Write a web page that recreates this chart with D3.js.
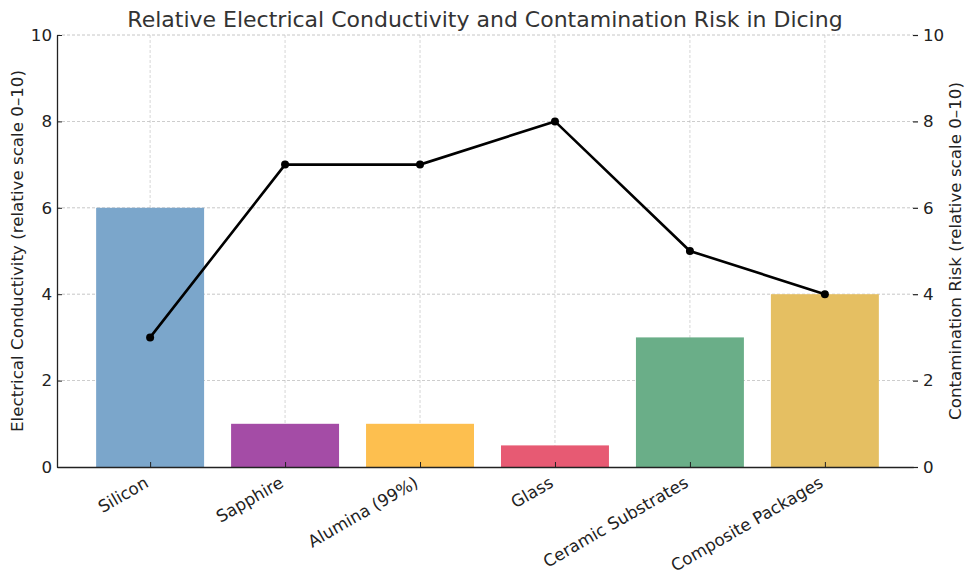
<!DOCTYPE html>
<html>
<head>
<meta charset="utf-8">
<script src="https://cdn.jsdelivr.net/npm/d3@7"></script>
<style>
  body { margin: 0; background: #fff; }
  text { font-family: "DejaVu Sans", sans-serif; fill: #222; }
</style>
</head>
<body>
<script>
var materials = ["Silicon", "Sapphire", "Alumina (99%)", "Glass", "Ceramic Substrates", "Composite Packages"];
var conductivity = [6, 1, 1, 0.5, 3, 4];
var contamination = [3, 7, 7, 8, 5, 4];
var barColors = ["#7ba6cb", "#a44ca6", "#fdbf4f", "#e75a73", "#6aae88", "#e5bf62"];
var yTicks = [0, 2, 4, 6, 8, 10];

var width = 975,
    height = 581,
    plotLeft = 57,
    plotRight = 913,
    plotTop = 35,
    plotBottom = 467;

var svg = d3.select("body").append("svg")
    .attr("width", width)
    .attr("height", height);

// category index scale, matplotlib style padding
var x = d3.scaleLinear().domain([-0.69, 5.653]).range([plotLeft, plotRight]);
var yL = d3.scaleLinear().domain([0, 10]).range([plotBottom, plotTop]);
var yR = d3.scaleLinear().domain([0, 10]).range([plotBottom, plotTop]);
var barW = 0.8;

// grid
svg.append("g")
    .selectAll("line")
    .data(yTicks.slice(1))
    .enter().append("line")
    .attr("x1", plotLeft).attr("x2", plotRight)
    .attr("y1", function(d) { return yL(d); })
    .attr("y2", function(d) { return yL(d); })
    .attr("stroke", "#a8a8a8")
    .attr("stroke-width", 0.8)
    .attr("stroke-dasharray", "3,2")
    .attr("opacity", 0.8);

svg.append("g")
    .selectAll("line")
    .data(materials)
    .enter().append("line")
    .attr("x1", function(d, i) { return x(i); })
    .attr("x2", function(d, i) { return x(i); })
    .attr("y1", plotTop).attr("y2", plotBottom)
    .attr("stroke", "#b8b8b8")
    .attr("stroke-width", 0.8)
    .attr("stroke-dasharray", "3,2")
    .attr("opacity", 0.7);

// bars
svg.append("g")
    .selectAll("rect")
    .data(conductivity)
    .enter().append("rect")
    .attr("x", function(d, i) { return x(i - barW / 2); })
    .attr("width", function(d, i) { return x(i + barW / 2) - x(i - barW / 2); })
    .attr("y", function(d) { return yL(d); })
    .attr("height", function(d) { return yL(0) - yL(d); })
    .attr("fill", function(d, i) { return barColors[i]; });

// axes (ticks point inward on x and left, outward on right)
var xAxis = svg.append("g")
    .attr("transform", "translate(0," + plotBottom + ")")
    .call(d3.axisBottom(x)
        .tickValues(d3.range(materials.length))
        .tickFormat(function(i) { return materials[i]; })
        .tickSize(-5)
        .tickSizeOuter(0));
xAxis.select(".domain").attr("stroke", "#222").attr("stroke-width", 1.3);
xAxis.selectAll(".tick line").attr("stroke", "#222");
xAxis.selectAll("text")
    .style("font-size", "16.7px")
    .style("text-anchor", "end")
    .attr("x", 0)
    .attr("y", 0)
    .attr("dy", 0)
    .attr("transform", "translate(-1,19) rotate(-30)");

var yAxisL = svg.append("g")
    .attr("transform", "translate(" + plotLeft + ",0)")
    .call(d3.axisLeft(yL).tickValues(yTicks).tickSize(-5).tickSizeOuter(0));
yAxisL.select(".domain").attr("stroke", "#222").attr("stroke-width", 1.3);
yAxisL.selectAll(".tick line").attr("stroke", "#222");
yAxisL.selectAll("text").style("font-size", "16.7px").attr("x", -5);

var yAxisR = svg.append("g")
    .attr("transform", "translate(" + plotRight + ",0)")
    .call(d3.axisRight(yR).tickValues(yTicks).tickSize(5).tickSizeOuter(0));
yAxisR.select(".domain").remove();
yAxisR.selectAll(".tick line").attr("stroke", "#222").attr("stroke-width", 1.2);
yAxisR.selectAll("text").style("font-size", "16.7px").attr("x", 10);

// line on right axis
var line = d3.line()
    .x(function(d, i) { return x(i); })
    .y(function(d) { return yR(d); });

svg.append("path")
    .datum(contamination)
    .attr("d", line)
    .attr("fill", "none")
    .attr("stroke", "#000")
    .attr("stroke-width", 2.6);

svg.append("g")
    .selectAll("circle")
    .data(contamination)
    .enter().append("circle")
    .attr("cx", function(d, i) { return x(i); })
    .attr("cy", function(d) { return yR(d); })
    .attr("r", 4)
    .attr("fill", "#000");

// labels
svg.append("text")
    .attr("x", (plotLeft + plotRight) / 2)
    .attr("y", 27)
    .attr("text-anchor", "middle")
    .style("font-size", "22px")
    .style("fill", "#333")
    .text("Relative Electrical Conductivity and Contamination Risk in Dicing");

svg.append("text")
    .attr("transform", "rotate(-90)")
    .attr("x", -(plotTop + plotBottom) / 2)
    .attr("y", 23)
    .attr("text-anchor", "middle")
    .style("font-size", "16.7px")
    .text("Electrical Conductivity (relative scale 0–10)");

svg.append("text")
    .attr("transform", "rotate(-90)")
    .attr("x", -(plotTop + plotBottom) / 2)
    .attr("y", 961)
    .attr("text-anchor", "middle")
    .style("font-size", "16.7px")
    .text("Contamination Risk (relative scale 0–10)");
</script>
</body>
</html>
